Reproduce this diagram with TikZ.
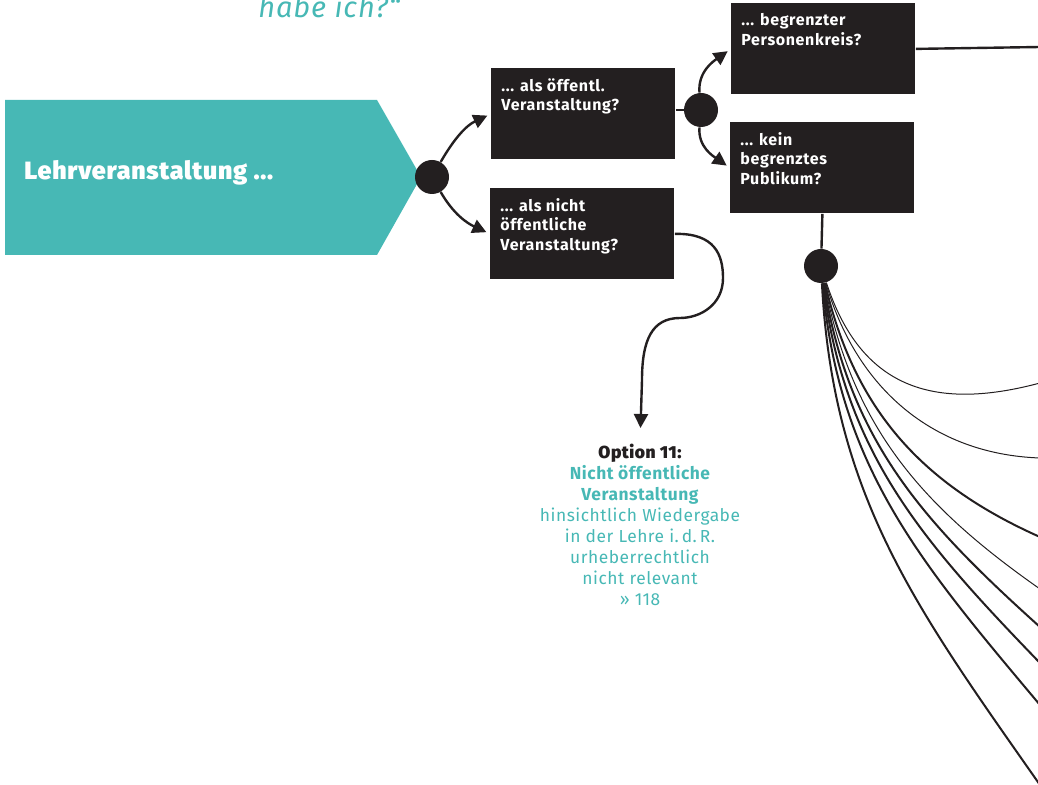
\documentclass[tikz,border=0pt]{standalone}
\usepackage{fontspec}
\setmainfont{Fira Sans}[LetterSpace=3]
\newfontfamily\heavyfont{Fira Sans Black}[LetterSpace=3]
\usetikzlibrary{positioning,arrows.meta}
\definecolor{tealmain}{HTML}{47B8B5}
\definecolor{boxdark}{HTML}{231F20}
\newcommand{\qtext}[1]{\parbox[t][35.5pt][t]{82pt}{\raggedright #1}}

\begin{document}
\begin{tikzpicture}[x=0.5pt, y=0.5pt,
    qbox/.style={fill=boxdark, text=white, anchor=north west, inner xsep=5pt, inner ysep=5pt, font=\bfseries\fontsize{8}{9.75}\selectfont\addfontfeatures{LetterSpace=4}},
    knot/.style={circle, fill=boxdark, minimum size=17pt, inner sep=0pt},
    arr/.style={-{Triangle[length=7pt,width=7pt]}, line width=1.2pt, draw=boxdark},
    link/.style={line width=1.2pt, draw=boxdark},
    fan/.style={line width=1pt, draw=boxdark},
    fanthin/.style={line width=0.5pt, draw=boxdark}]
  \useasboundingbox (0,0) rectangle (1038,-785);

  % Kopfzeile (angeschnitten)
  \node[anchor=base west, inner sep=0pt, text=tealmain, font=\itshape\fontsize{14.5}{16}\selectfont] (frage) at (258,-18) {habe ich?“};

  % Startpfeil
  \fill[tealmain] (5,-100) -- (377,-100) -- (421,-177) -- (377,-255) -- (5,-255) -- cycle;
  \node[anchor=base west, inner sep=0pt, text=white, font=\heavyfont\fontsize{12.5}{14}\selectfont] (lehr) at (24,-180) {Lehrveranstaltung ...};

  % Fragen
  \node[qbox] (oeff) at (491,-68) {\qtext{... als öffentl.\\ Veranstaltung?}};
  \node[qbox] (nichtoeff) at (490,-188) {\qtext{... als nicht\\ öffentliche\\ Veranstaltung?}};
  \node[qbox] (begrenzt) at (731,-3) {\qtext{... begrenzter\\ Personenkreis?}};
  \node[qbox] (kein) at (730,-122) {\qtext{... kein\\ begrenztes\\ Publikum?}};

  % Knoten
  \node[knot] (k1) at (432,-177) {};
  \node[knot] (k2) at (701,-110) {};
  \node[knot] (k3) at (821,-266) {};

  % Option 11
  \node[anchor=north, align=center, inner sep=0pt, text=tealmain, font=\fontsize{8.7}{10.5}\selectfont] (opt11) at (640,-444)
    {{\heavyfont\color{boxdark}Option 11:}\\ {\bfseries Nicht öffentliche}\\ {\bfseries Veranstaltung}\\ hinsichtlich Wiedergabe\\ in der Lehre i.\,d.\,R.\\ urheberrechtlich\\ nicht relevant\\ » 118};

  \coordinate (rand1) at (1040,-47);
  \coordinate (f1) at (1040,-383);
  \coordinate (f2) at (1040,-458);
  \coordinate (f3) at (1040,-537);
  \coordinate (f4) at (1040,-589);
  \coordinate (f5) at (1040,-627);
  \coordinate (f6) at (1040,-663);
  \coordinate (f7) at (1040,-705);
  \coordinate (f8) at (1040,-785);

  % Verbindungen
  \draw[arr, shorten >=2pt] (k1) to[out=60, in=205] (oeff.west);
  \draw[arr, shorten >=2pt] (k1) to[out=-60, in=155] (nichtoeff.west);
  \draw[link] (oeff.east |- k2) -- (k2);
  \draw[arr, shorten >=2pt] (k2) to[out=95, in=215] (begrenzt.west);
  \draw[arr, shorten >=2pt] (k2) to[out=-95, in=145] (kein.west);
  \draw[link] (begrenzt.east) -- (rand1);
  \draw[link] (kein.south) -- (k3);
  \draw[arr, shorten >=8pt] (nichtoeff.east) .. controls (715,-233) and (723,-255) .. (723,-278)
    .. controls (723,-305) and (700,-318) .. (680,-318)
    .. controls (652,-318) and (642,-340) .. (642,-380) -- (opt11.north);

  % Faecher nach rechts
  \draw[fanthin] (k3) to[out=-72, in=195, looseness=1.2] (f1);
  \draw[fanthin] (k3) to[out=-74, in=178] (f2);
  \draw[fan] (k3) to[out=-77, in=156] (f3);
  \draw[fanthin] (k3) to[out=-79, in=145] (f4);
  \draw[fan] (k3) to[out=-81, in=138] (f5);
  \draw[fan] (k3) to[out=-83, in=134] (f6);
  \draw[fan] (k3) to[out=-85, in=130] (f7);
  \draw[fan] (k3) to[out=-87, in=125] (f8);
\end{tikzpicture}
\end{document}
